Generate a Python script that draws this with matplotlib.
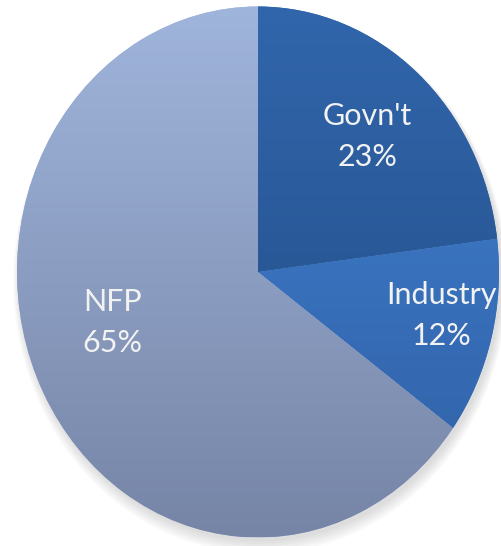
import numpy as np
import matplotlib
matplotlib.use("Agg")
import matplotlib.pyplot as plt
from matplotlib.colors import LinearSegmentedColormap
from matplotlib.patches import Ellipse

# data
labels = ["Govn't", "Industry", "NFP"]
shares = [23, 12, 65]

# gradient colours (top -> bottom) for each wedge
top_colors = ["#3166ac", "#4282d4", "#a0b5dc"]
bottom_colors = ["#214a82", "#2f5fa3", "#7685a6"]

# label placement in data units (Excel "best fit" style)
label_pos = [(0.455, 0.51), (0.76, -0.165), (-0.605, -0.19)]

fig = plt.figure(figsize=(5.01, 5.46), dpi=100, facecolor="white")
ax = fig.add_axes([0, 0, 1, 1])

wedges, _ = ax.pie(shares, startangle=90, counterclock=False,
                   radius=1.0, wedgeprops=dict(linewidth=0))
ax.set_aspect("auto")

# soft shadow under the pie
for k in range(6):
    sh = Ellipse((0.01, -0.015 - 0.004 * k), 2.0 + 0.01 * k, 2.0 + 0.01 * k,
                 facecolor="#8a8a8a", edgecolor="none", alpha=0.05, zorder=0)
    ax.add_patch(sh)

yy = np.linspace(1, 0, 256).reshape(-1, 1)
for w, c0, c1 in zip(wedges, top_colors, bottom_colors):
    w.set_facecolor(c0)
    cmap = LinearSegmentedColormap.from_list("g", [c1, c0])
    im = ax.imshow(yy, cmap=cmap, extent=(-1, 1, -1, 1), aspect="auto",
                   interpolation="bilinear", zorder=2, vmin=0, vmax=1)
    im.set_clip_path(w)

for (lx, ly), lab, val in zip(label_pos, labels, shares):
    ax.text(lx, ly, f"{lab}\n{val}%", ha="center", va="center", color="#f2f2f2",
            fontsize=22, family="Lato", linespacing=1.55, zorder=5)

ax.set_xlim(-258 / 241, 243 / 241)
ax.set_ylim(-274 / 265.5, 272 / 265.5)
ax.axis("off")

fig.savefig("out.png", dpi=100, facecolor="white")
